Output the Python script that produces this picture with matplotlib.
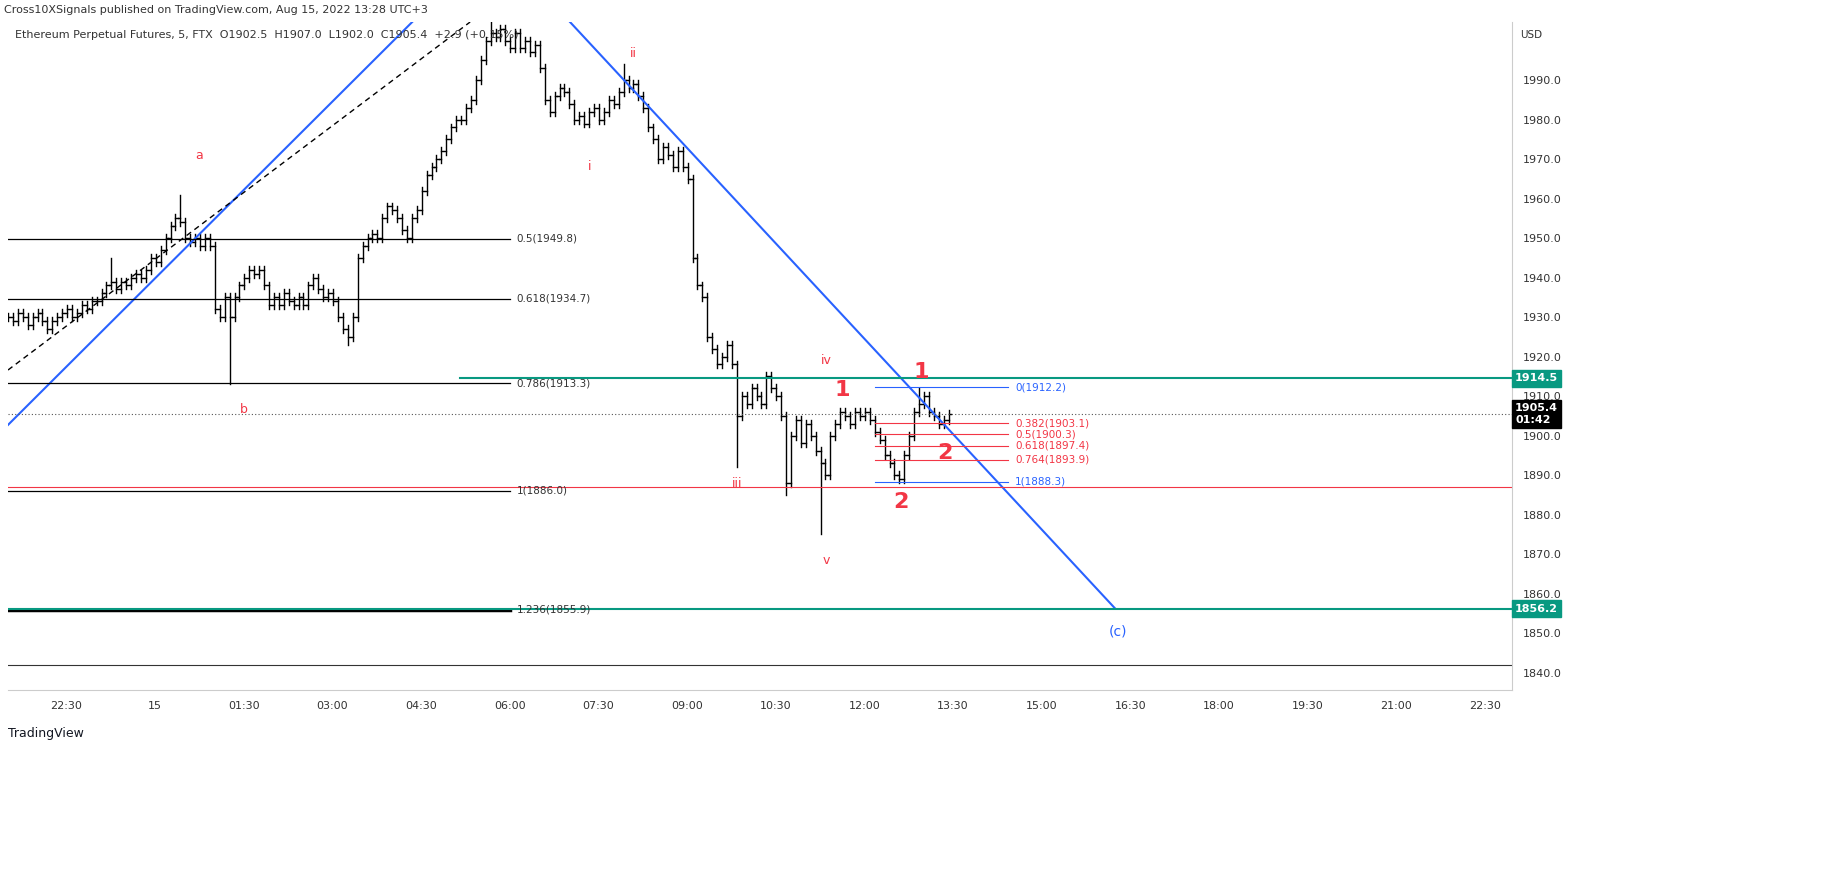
import matplotlib
matplotlib.use("Agg")
import matplotlib.pyplot as plt
import numpy as np

closes = [1930,1929,1931,1930,1928,1930,1931,1929,1927,1929,1930,1931,1932,1930,1931,1933,1932,1934,1934,1936,1938,1939,
          1937,1939,1938,1940,1941,1940,1942,1945,1944,1947,1950,1953,1955,1954,1950,1949,1950,1948,1950,1948,
          1932,1930,1935,1930,1935,1938,1940,1942,1941,1942,1938,1933,1935,1933,1936,1934,1933,1935,1933,
          1938,1940,1937,1935,1936,1934,1930,1927,1925,1930,1945,1948,1950,1951,1950,1955,
          1958,1957,1955,1952,1950,1955,1957,1962,1966,1968,1970,1972,1975,1978,1980,1980,1983,1985,
          1990,1995,2000,2002,2001,2003,2000,1998,2002,1998,2000,1997,1999,1993,1985,1982,
          1986,1988,1987,1984,1980,1981,1979,1982,1983,1980,1982,1985,1984,1987,1990,
          1988,1989,1986,1983,1978,1975,1970,1973,1971,1968,1972,1968,1965,1945,1938,1935,
          1925,1922,1918,1920,1923,1918,1905,1910,1908,1912,1910,1908,1915,1912,1910,1905,
          1888,1900,1904,1898,1903,1900,1896,1893,1890,1900,1903,1906,1905,1903,1906,
          1905,1906,1904,1901,1899,1895,1893,1890,1889,1895,1900,1906,1908,1910,1906,
          1905,1903,1904,1905.4]
high_spikes = {21: 1945, 35: 1961, 125: 1994, 185: 1912, 98: 2005}
low_spikes = {45: 1913, 69: 1923, 148: 1892, 158: 1885, 165: 1875, 181: 1888}

fib_left = [(1949.8, "0.5(1949.8)"), (1934.7, "0.618(1934.7)"), (1913.3, "0.786(1913.3)"),
            (1886.0, "1(1886.0)"), (1855.9, "1.236(1855.9)")]
fib_blue = [(1912.2, "0(1912.2)"), (1888.3, "1(1888.3)")]
fib_red = [(1903.1, "0.382(1903.1)"), (1900.3, "0.5(1900.3)"), (1897.4, "0.618(1897.4)"), (1893.9, "0.764(1893.9)")]
wave_small = [("a", 0.75, 1971), ("b", 1.5, 1906.5), ("i", 7.35, 1968.2), ("ii", 8.1, 1996.8),
              ("iii", 9.85, 1888), ("iv", 11.35, 1918.9), ("v", 11.35, 1868.5)]
wave_big = [("1", 11.63, 1911.5), ("1", 12.96, 1916), ("2", 13.37, 1895.5), ("2", 12.62, 1883.2)]
tick_pos = [-1.5, 0, 1.5, 3, 4.5, 6, 7.5, 9, 10.5, 12, 13.5, 15, 16.5, 18, 19.5, 21, 22.5]
tick_lab = ["22:30", "15", "01:30", "03:00", "04:30", "06:00", "07:30", "09:00", "10:30", "12:00",
            "13:30", "15:00", "16:30", "18:00", "19:30", "21:00", "22:30"]
price_ticks = [1840, 1850, 1860, 1870, 1880, 1890, 1900, 1910, 1920, 1930, 1940, 1950, 1960, 1970, 1980, 1990]

W, H = 1834, 875
fig = plt.figure(figsize=(W/100, H/100), dpi=100)
ax = fig.add_axes([8/W, 1-690/H, (1512-8)/W, (690-22)/H])
x0, x1 = -2.49, 22.96
ax.set_xlim(x0, x1); ax.set_ylim(1835.6, 2004.7)

t = -2.49 + np.arange(len(closes)) / 12
opens = [closes[0]] + closes[:-1]
for i, (tt, o, c) in enumerate(zip(t, opens, closes)):
    hi = high_spikes.get(i, max(o, c) + 1.0)
    lo = low_spikes.get(i, min(o, c) - 1.0)
    ax.plot([tt, tt], [lo, hi], color="black", lw=1)
    ax.plot([tt - 0.035, tt], [o, o], color="black", lw=1)
    ax.plot([tt, tt + 0.035], [c, c], color="black", lw=1)

blue = "#2962ff"
ax.plot([x0, 4.35], [1902.7, 2004.7], color=blue, lw=1.5)
ax.plot([x0, 5.33], [1916.6, 2004.7], color="black", lw=1, ls=(0, (4, 3)))
ax.plot([7.02, 16.24], [2004.7, 1856.3], color=blue, lw=1.5)
for p, lab in fib_left:
    ax.plot([x0, 6.0], [p, p], color="black", lw=2.5 if p < 1860 else 0.9)
    ax.text(6.12, p, lab, fontsize=7.5, va="center", color="#333333")
green = "#089981"
ax.plot([5.16, x1], [1914.5, 1914.5], color=green, lw=1.5)
ax.plot([x0, x1], [1856.2, 1856.2], color=green, lw=1.5)
ax.axhline(1887.0, color="#f23645", lw=0.8)
ax.axhline(1905.4, color="#555555", lw=0.8, ls=(0, (1, 2)))
ax.axhline(1841.9, color="#333333", lw=0.8)
for lst, col in ((fib_blue, blue), (fib_red, "#f23645")):
    for p, lab in lst:
        ax.plot([12.18, 14.43], [p, p], color=col, lw=0.8)
        ax.text(14.55, p, lab, fontsize=7.5, va="center", color=col)
red = "#f23645"
for s, xx, yy in wave_small:
    ax.text(xx, yy, s, color=red, fontsize=9, ha="center", va="center")
for s, xx, yy in wave_big:
    ax.text(xx, yy, s, color=red, fontsize=16, fontweight="bold", ha="center", va="center")
ax.text(16.3, 1850.3, "(c)", color=blue, fontsize=10, ha="center", va="center")

ax.set_xticks(tick_pos); ax.set_xticklabels(tick_lab, fontsize=8, color="#333333")
ax.yaxis.tick_right()
ax.set_yticks(price_ticks); ax.set_yticklabels([f"{p:.1f}" for p in price_ticks], fontsize=8, color="#333333")
ax.tick_params(length=0, pad=8)
for s in ax.spines.values():
    s.set_color("#cccccc"); s.set_linewidth(0.8)
ax.spines["top"].set_visible(False); ax.spines["left"].set_visible(False)

def box(p, txt, col, h=0.016):
    fig.text(1515/W, ax.transData.transform((0, p))[1]/H, txt, fontsize=8, color="white",
             fontweight="bold", va="center", ha="left",
             bbox=dict(boxstyle="square,pad=0.3", fc=col, ec=col))
box(1914.5, "1914.5", green)
box(1905.4, "1905.4\n01:42", "black")
box(1856.2, "1856.2", green)
fig.text(1520/W, 1-35/H, "USD", fontsize=7.5, color="#333333", va="center")
fig.text(15/W, 1-35/H, "Ethereum Perpetual Futures, 5, FTX  O1902.5  H1907.0  L1902.0  C1905.4  +2.9 (+0.15%)",
         fontsize=8, color="#333333", va="center")
fig.text(4/W, 1-10/H, "Cross10XSignals published on TradingView.com, Aug 15, 2022 13:28 UTC+3",
         fontsize=8, color="#333333", va="center")
fig.text(8/W, 1-733/H, "TradingView", fontsize=9, color="#131722", va="center")
fig.savefig("out.png", dpi=100, facecolor="white")
